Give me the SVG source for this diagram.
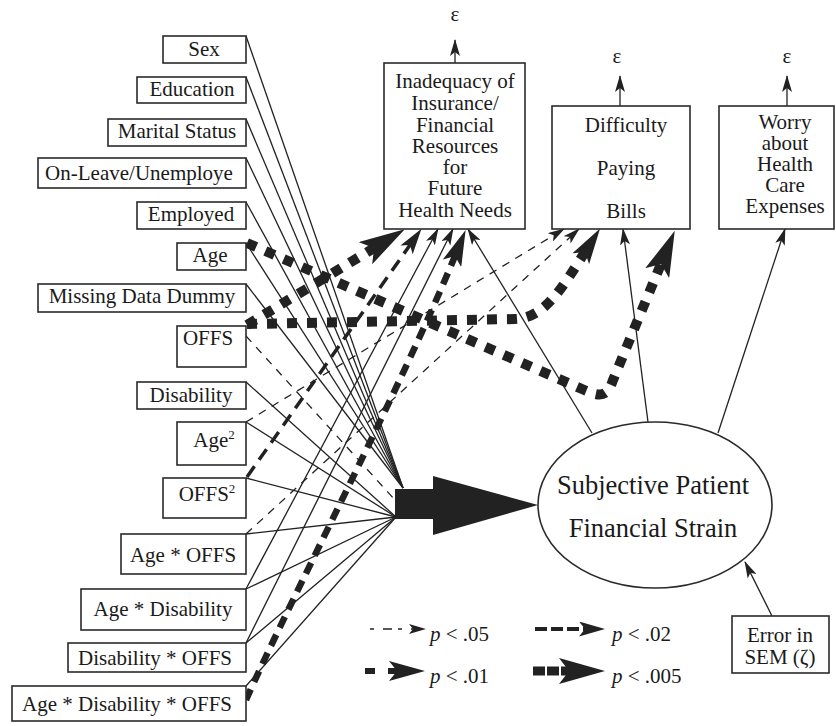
<svg xmlns="http://www.w3.org/2000/svg" width="836" height="726" viewBox="0 0 836 726">
<style>
text{font-family:"Liberation Serif","Times New Roman",serif;font-size:21px;fill:#1a1a1a;text-anchor:middle}
.box{fill:#fff;stroke:#2a2a2a;stroke-width:1.6}
.ln{fill:none;stroke:#222;stroke-width:1.3}
.d05{fill:none;stroke:#222;stroke-width:1.3;stroke-dasharray:8 7}
.d02{fill:none;stroke:#222;stroke-width:3.5;stroke-dasharray:13 8}
.d01{fill:none;stroke:#222;stroke-width:6.5;stroke-dasharray:12 8}
.sq{fill:none;stroke:#222;stroke-width:10;stroke-dasharray:10 10}
.lg05{fill:none;stroke:#222;stroke-width:1.3;stroke-dasharray:4 9 9 6}
.lg02{fill:none;stroke:#222;stroke-width:4;stroke-dasharray:12 4}
.lg01{fill:none;stroke:#222;stroke-width:6;stroke-dasharray:10 13}
.lg005{fill:none;stroke:#222;stroke-width:9;stroke-dasharray:12 2}
.it{font-style:italic}
.lt{text-anchor:start}
</style>
<defs>
<marker id="m1" viewBox="0 0 17 10" refX="16" refY="5" markerWidth="17" markerHeight="10" orient="auto" markerUnits="userSpaceOnUse"><path d="M0,0 L17,5 L0,10 L4,5 z" fill="#222"/></marker>
<marker id="m2" viewBox="0 0 26 15" refX="6" refY="7.5" markerWidth="26" markerHeight="15" orient="auto" markerUnits="userSpaceOnUse"><path d="M0,0 L26,7.5 L0,15 L6,7.5 z" fill="#222"/></marker>
<marker id="m3" viewBox="0 0 36 20" refX="8" refY="10" markerWidth="36" markerHeight="20" orient="auto" markerUnits="userSpaceOnUse"><path d="M0,0 L36,10 L0,20 L8,10 z" fill="#222"/></marker>
<marker id="m4" viewBox="0 0 46 26" refX="10" refY="13" markerWidth="46" markerHeight="26" orient="auto" markerUnits="userSpaceOnUse"><path d="M0,0 L46,13 L0,26 L10,13 z" fill="#222"/></marker>
</defs>

<g id="connectors">
<!-- fan lines to Subjective Patient Financial Strain -->
<path class="ln" d="M246,36 L403,488"/>
<path class="ln" d="M246,77 L403,488"/>
<path class="ln" d="M246,119 L403,488"/>
<path class="ln" d="M246,158 L403,488"/>
<path class="ln" d="M246,202 L403,488"/>
<path class="ln" d="M246,243 L403,488"/>
<path class="ln" d="M246,284 L403,488"/>
<path class="ln" d="M246,382 L396,517"/>
<path class="ln" d="M246,422 L396,517"/>
<path class="ln" d="M246,478 L396,517"/>
<path class="ln" d="M246,534 L396,517"/>
<path class="ln" d="M246,589 L396,517"/>
<path class="ln" d="M246,643 L396,517"/>
<path class="ln" d="M246,686 L396,517"/>
<path class="d05" d="M246,336 L395,500"/>
<!-- paths to outcomes -->
<path class="ln" d="M246,589 L438,229" marker-end="url(#m1)"/>
<path class="ln" d="M246,643 L453,229" marker-end="url(#m1)"/>
<path class="d05" d="M246,422 L564,229" marker-end="url(#m1)"/>
<path class="d05" d="M246,534 L579,229" marker-end="url(#m1)"/>
<path class="d02" d="M247,477 L410,245" marker-end="url(#m2)"/>
<path class="d01" d="M246,700 C290,600 400,390 455,256" marker-end="url(#m3)"/>
<path class="sq" d="M247,325 L374,248" marker-end="url(#m4)"/>
<path class="sq" d="M247,324 L515,319 C545,318 562,288 585,252" marker-end="url(#m3)"/>
<path class="sq" d="M247,243 L582,389 C600,397 607,398 613,380 L661,264" marker-end="url(#m4)"/>
<!-- big arrow -->
<polygon points="395,489 433,489 433,476 538,505 433,535 433,519 395,519" fill="#222"/>
<!-- from latent -->
<path class="ln" d="M592,433 L468,229" marker-end="url(#m1)"/>
<path class="ln" d="M648,422 L623,229" marker-end="url(#m1)"/>
<path class="ln" d="M718,433 L785,229" marker-end="url(#m1)"/>
<path class="ln" d="M772,616 L745,562" marker-end="url(#m1)"/>
<!-- error arrows -->
<path class="ln" d="M455,63 L455,40" marker-end="url(#m1)"/>
<path class="ln" d="M620,106 L620,76" marker-end="url(#m1)"/>
<path class="ln" d="M787,106 L787,76" marker-end="url(#m1)"/>
</g>

<g id="sex"><rect class="box" x="163" y="36" width="83" height="27"/><text x="204" y="56">Sex</text></g>
<g id="education"><rect class="box" x="137" y="77" width="109" height="26"/><text x="192" y="96">Education</text></g>
<g id="marital"><rect class="box" x="108" y="119" width="138" height="27"/><text x="177" y="138">Marital Status</text></g>
<g id="onleave"><rect class="box" x="38" y="158" width="208" height="30"/><text x="139" y="180">On-Leave/Unemploye</text></g>
<g id="employed"><rect class="box" x="137" y="202" width="109" height="27"/><text x="191" y="221">Employed</text></g>
<g id="age"><rect class="box" x="177" y="243" width="69" height="27"/><text x="210" y="262">Age</text></g>
<g id="missing"><rect class="box" x="38" y="284" width="208" height="28"/><text x="142" y="303">Missing Data Dummy</text></g>
<g id="offs"><rect class="box" x="177" y="326" width="69" height="41"/><text x="208" y="345">OFFS</text></g>
<g id="disability"><rect class="box" x="137" y="382" width="109" height="27"/><text x="191" y="402">Disability</text></g>
<g id="age2"><rect class="box" x="177" y="422" width="69" height="43"/><text x="214" y="447">Age<tspan font-size="13" dy="-8">2</tspan></text></g>
<g id="offs2"><rect class="box" x="163" y="478" width="83" height="40"/><text x="207" y="501">OFFS<tspan font-size="13" dy="-8">2</tspan></text></g>
<g id="ageoffs"><rect class="box" x="121" y="534" width="125" height="40"/><text x="183" y="562">Age * OFFS</text></g>
<g id="agedis"><rect class="box" x="81" y="589" width="165" height="41"/><text x="163" y="616">Age * Disability</text></g>
<g id="disoffs"><rect class="box" x="68" y="643" width="178" height="29"/><text x="155" y="665">Disability * OFFS</text></g>
<g id="agedisoffs"><rect class="box" x="12" y="686" width="234" height="35"/><text x="127" y="711">Age * Disability * OFFS</text></g>

<g id="inadequacy"><rect class="box" x="384" y="63" width="141" height="166"/>
<text x="455" y="88">Inadequacy of</text><text x="455" y="110">Insurance/</text><text x="455" y="132">Financial</text><text x="455" y="153">Resources</text><text x="455" y="174">for</text><text x="455" y="195">Future</text><text x="455" y="217">Health Needs</text>
<text x="455" y="21">ε</text></g>
<g id="bills"><rect class="box" x="552" y="106" width="138" height="123"/>
<text x="626" y="132">Difficulty</text><text x="626" y="175">Paying</text><text x="626" y="218">Bills</text>
<text x="617" y="63">ε</text></g>
<g id="worry"><rect class="box" x="719" y="106" width="115" height="123"/>
<text x="785" y="129">Worry</text><text x="785" y="150">about</text><text x="785" y="171">Health</text><text x="785" y="192">Care</text><text x="785" y="213">Expenses</text>
<text x="787" y="63">ε</text></g>

<g id="strain"><ellipse cx="655" cy="505" rx="117" ry="83" fill="#fff" stroke="#2a2a2a" stroke-width="1.6"/>
<text x="653" y="494" style="font-size:26.5px">Subjective Patient</text><text x="653" y="537" style="font-size:26.5px">Financial Strain</text></g>

<g id="error"><rect class="box" x="732" y="616" width="97" height="57"/><text x="780" y="642">Error in</text><text x="780" y="664">SEM (ζ)</text></g>

<g id="legend">
<path class="lg05" d="M370,629 L425,629" marker-end="url(#m1)"/>
<text class="lt" x="430" y="641"><tspan class="it">p</tspan> &lt; .05</text>
<path class="lg02" d="M535,629 L585,629" marker-end="url(#m2)"/>
<text class="lt" x="612" y="641"><tspan class="it">p</tspan> &lt; .02</text>
<path class="lg01" d="M365,671 L397,671" marker-end="url(#m3)"/>
<text class="lt" x="430" y="683"><tspan class="it">p</tspan> &lt; .01</text>
<path class="lg005" d="M533,671 L569,671" marker-end="url(#m4)"/>
<text class="lt" x="612" y="683"><tspan class="it">p</tspan> &lt; .005</text>
</g>
</svg>
